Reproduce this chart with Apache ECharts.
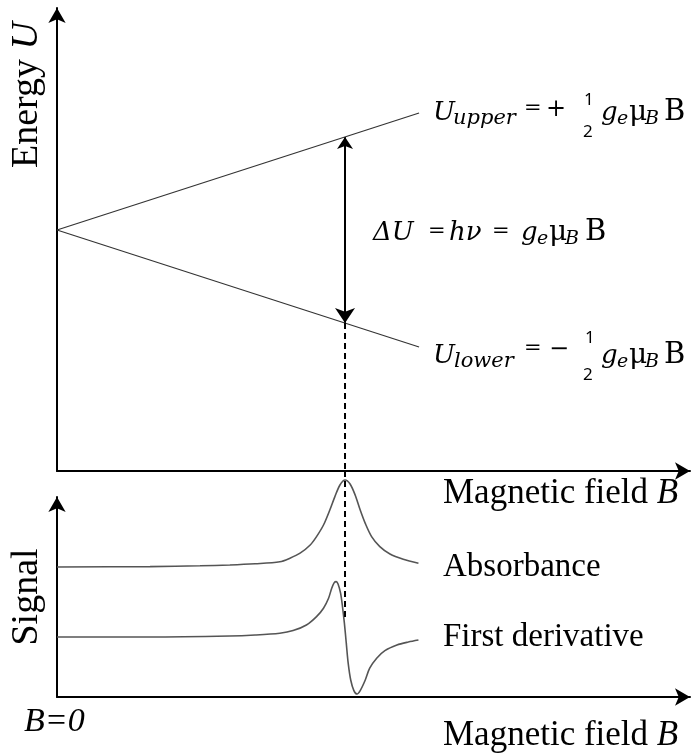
<!DOCTYPE html>
<html><head><meta charset="utf-8">
<script src="https://cdn.jsdelivr.net/npm/echarts@6/dist/echarts.min.js"></script>
<style>html,body{margin:0;padding:0;background:#fff}#c{width:697px;height:753px}</style>
</head><body><div id="c"></div>
<script>
// ---- data (arbitrary units) ----
const energyB = [0, 57.2];          // field range of the energy lines
const upperU = [0, 23.4];           // U_upper at those fields
const lowerU = [0, -23.4];          // U_lower at those fields
const resonanceB = 45.5;            // resonance field
const upperAtRes = 18.6;
const lowerAtRes = -18.6;
const energyMin = -48.2;            // energy axis range
const energyMax = 44.4;
const fieldMax = 100;
const signalMax = 100;
const dashTopSignal = 113;          // dashed guide in signal units
const dashBottomSignal = 39.5;

const absB = [0, 14.7, 22.6, 27.3, 31.3, 35.2, 36.8, 38.4, 40.0, 41.0, 42.1, 43.1, 43.9, 44.7, 45.5, 46.3, 47.1, 47.9, 48.7, 49.7, 51.0, 52.6, 54.7, 57.1];
const absS = [65, 65.2, 65.6, 66.0, 66.6, 67.6, 69.4, 71.9, 76.0, 80.2, 86.0, 93.5, 100.2, 106.0, 108.5, 106.5, 101.0, 93.5, 86.8, 80.2, 75.2, 71.5, 68.9, 66.9];

const derB = [0, 14.7, 27.3, 31.3, 35.2, 37.3, 39.4, 41.0, 42.1, 42.9, 43.4, 43.8, 44.1, 44.4, 44.8, 45.1, 45.4, 45.7, 46.0, 46.4, 46.9, 47.4, 47.9, 48.7, 49.4, 50.5, 51.8, 53.7, 55.5, 57.1];
const derS = [30, 30, 30.5, 31, 31.9, 33.2, 36.0, 40.2, 44.4, 49.4, 54.4, 57.2, 57.7, 56.5, 51.9, 45.2, 36.9, 26.9, 16.9, 8.5, 3.2, 1.5, 3.2, 8.5, 14.4, 19.4, 23.2, 26.0, 27.5, 28.5];

const zip = (a, b) => a.map((v, i) => [v, b[i]]);

const chart = echarts.init(document.getElementById('c'), null, {renderer: 'canvas'});

const axisLineStyle = {color: '#000', width: 2};
function xAx(gi) {
  return {gridIndex: gi, type: 'value', min: 0, max: fieldMax,
    axisLine: {show: true, onZero: false, lineStyle: axisLineStyle, symbol: ['none', 'arrow'], symbolSize: [13, 15]},
    axisTick: {show: false}, axisLabel: {show: false}, splitLine: {show: false}};
}
function yAx(gi, mn, mx) {
  return {gridIndex: gi, type: 'value', min: mn, max: mx,
    axisLine: {show: true, onZero: false, lineStyle: axisLineStyle, symbol: ['none', 'arrow'], symbolSize: [13, 15]},
    axisTick: {show: false}, axisLabel: {show: false}, splitLine: {show: false}};
}

const serif = '"Liberation Serif", "Times New Roman", serif';
const math = '"DejaVu Serif", serif';
const sans = '"Noto Sans", sans-serif';
function lbl(x, y, rich, size, rot) {
  return {type: 'text', x: x, y: y, rotation: rot || 0,
    style: {text: rich, font: size + 'px ' + serif, fill: '#000',
      align: rot ? 'center' : 'left', verticalAlign: 'middle',
      rich: {i: {fontStyle: 'italic', fontSize: size, fontFamily: serif}}}};
}
function g(x, base, str, size, italic, family, center) {
  return {type: 'text', x: x, y: center !== undefined ? center : base - 0.3 * size,
    style: {text: str, font: (italic ? 'italic ' : '') + size + 'px ' + (family || math),
      fill: '#000', align: 'left', verticalAlign: 'middle'}};
}

const graphics = [
  lbl(27, 95, 'Energy {i|U}', 38, Math.PI / 2),
  lbl(27, 597, 'Signal', 38, Math.PI / 2),
  lbl(443, 494, 'Magnetic field {i|B}', 35),
  lbl(443, 567, 'Absorbance', 33),
  lbl(443, 637, 'First derivative', 33),
  lbl(443, 736, 'Magnetic field {i|B}', 35),
  lbl(24, 722, '{i|B=0}', 34),
  // U_upper
  g(433, 121, 'U', 26, true),
  g(453, 125, 'upper', 21, true),
  g(524, 0, '=', 21, false, math, 109),
  g(546, 0, '+', 24, false, math, 110),
  g(584, 0, '1', 17, false, sans, 100),
  g(583, 0, '2', 17, false, sans, 132),
  g(601, 121, 'g', 26, true),
  g(617, 125, 'e', 19, true),
  g(629, 121, 'μ', 28, false),
  g(645, 125, 'B', 19, true),
  g(664, 121, 'B', 29, false),
  // Delta U
  g(373, 241, 'ΔU', 26, true),
  g(428, 0, '=', 21, false, math, 232),
  g(449, 241, 'hν', 26, true),
  g(492, 0, '=', 21, false, math, 232),
  g(521, 241, 'g', 26, true),
  g(537, 245, 'e', 19, true),
  g(549, 241, 'μ', 28, false),
  g(565, 245, 'B', 19, true),
  g(585, 241, 'B', 29, false),
  // U_lower
  g(433, 364, 'U', 26, true),
  g(454, 368, 'lower', 21, true),
  g(524, 0, '=', 21, false, math, 349),
  g(549, 0, '−', 24, false, math, 350),
  g(585, 0, '1', 17, false, sans, 338),
  g(583, 0, '2', 17, false, sans, 375),
  g(601, 364, 'g', 26, true),
  g(617, 368, 'e', 19, true),
  g(629, 364, 'μ', 28, false),
  g(645, 368, 'B', 19, true),
  g(664, 364, 'B', 29, false)
];

chart.setOption({
  animation: false,
  backgroundColor: '#fff',
  grid: [
    {left: 57, top: 8, width: 633, height: 463},
    {left: 57, top: 497, width: 633, height: 200}
  ],
  xAxis: [xAx(0), xAx(1)],
  yAxis: [yAx(0, energyMin, energyMax), yAx(1, 0, signalMax)],
  series: [
    {type: 'line', xAxisIndex: 0, yAxisIndex: 0, data: zip(energyB, upperU), symbol: 'none',
      lineStyle: {color: '#333', width: 1.2}, silent: true},
    {type: 'line', xAxisIndex: 0, yAxisIndex: 0, data: zip(energyB, lowerU), symbol: 'none',
      lineStyle: {color: '#333', width: 1.2}, silent: true},
    {type: 'line', xAxisIndex: 0, yAxisIndex: 0, data: [[resonanceB, lowerAtRes], [resonanceB, energyMin]],
      symbol: 'none', clip: false, lineStyle: {color: '#000', width: 2, type: [6, 4]}, silent: true},
    {type: 'lines', coordinateSystem: 'cartesian2d', xAxisIndex: 0, yAxisIndex: 0,
      data: [{coords: [[resonanceB, upperAtRes], [resonanceB, lowerAtRes]]}],
      symbol: ['arrow', 'arrow'], symbolSize: [12, 15],
      lineStyle: {color: '#000', width: 2, opacity: 1}, silent: true},
    {type: 'line', xAxisIndex: 1, yAxisIndex: 1, data: zip(absB, absS), symbol: 'none', smooth: 0.3,
      clip: false, lineStyle: {color: '#555', width: 1.6}, silent: true},
    {type: 'line', xAxisIndex: 1, yAxisIndex: 1, data: zip(derB, derS), symbol: 'none', smooth: 0.3,
      clip: false, lineStyle: {color: '#555', width: 1.6}, silent: true},
    {type: 'line', xAxisIndex: 1, yAxisIndex: 1, data: [[resonanceB, dashTopSignal], [resonanceB, dashBottomSignal]],
      symbol: 'none', clip: false, lineStyle: {color: '#000', width: 2, type: [6, 4]}, silent: true}
  ],
  graphic: graphics
});
</script></body></html>
